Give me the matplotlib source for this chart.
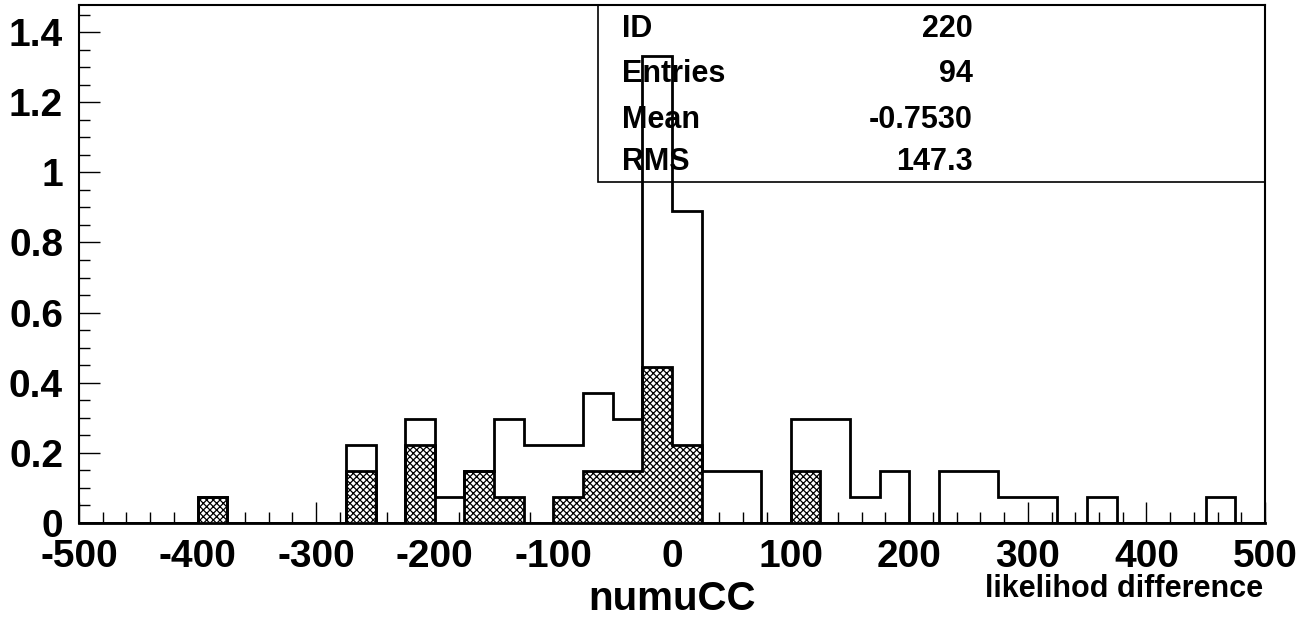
import numpy as np
import matplotlib
matplotlib.use("Agg")
import matplotlib.pyplot as plt
from matplotlib.ticker import MultipleLocator, FuncFormatter
from matplotlib.patches import Rectangle

# ---------------- data ----------------
bin_edges = np.arange(-500, 501, 25)  # 40 bins of width 25
# all-event histogram (open outline)
open_heights = [0, 0, 0, 0, 0.074, 0, 0, 0, 0, 0.222,
                0, 0.296, 0.074, 0.148, 0.296, 0.222, 0.222, 0.370, 0.296, 1.333,
                0.889, 0.148, 0.148, 0, 0.296, 0.296, 0.074, 0.148, 0, 0.148,
                0.148, 0.074, 0.074, 0, 0.074, 0, 0, 0, 0.074, 0]
# selected histogram (cross-hatched)
hatched_heights = [0, 0, 0, 0, 0.074, 0, 0, 0, 0, 0.148,
                   0, 0.222, 0, 0.148, 0.074, 0, 0.074, 0.148, 0.148, 0.444,
                   0.222, 0, 0, 0, 0.148, 0, 0, 0, 0, 0,
                   0, 0, 0, 0, 0, 0, 0, 0, 0, 0]
stats_labels = ["ID", "Entries", "Mean", "RMS"]
stats_values = ["220", "94", "-0.7530", "147.3"]
x_title = "numuCC"
x_subtitle = "likelihod difference"

# ---------------- figure ----------------
plt.rcParams['font.family'] = ['Liberation Sans', 'DejaVu Sans']
plt.rcParams['font.weight'] = 'bold'
plt.rcParams['hatch.linewidth'] = 0.9

W, H = 1313, 619
fig = plt.figure(figsize=(W / 100, H / 100), dpi=100)
L, R, T, B = 79, 1265, 5, 522.7
ax = fig.add_axes([L / W, (H - B) / H, (R - L) / W, (B - T) / H])

ax.stairs(hatched_heights, bin_edges, fill=True, facecolor='white',
          edgecolor='black', hatch='xxxxx', linewidth=2, zorder=2)
ax.stairs(open_heights, bin_edges, fill=False, color='black',
          linewidth=2, zorder=3)

ax.set_xlim(-500, 500)
ax.set_ylim(0, 1.478)

ax.xaxis.set_major_locator(MultipleLocator(100))
ax.xaxis.set_minor_locator(MultipleLocator(20))
ax.yaxis.set_major_locator(MultipleLocator(0.2))
ax.yaxis.set_minor_locator(MultipleLocator(0.05))

def yfmt(v, pos):
    s = f"{v:.1f}"
    if s.endswith(".0"):
        s = s[:-2]
    return s

ax.yaxis.set_major_formatter(FuncFormatter(yfmt))
ax.xaxis.set_major_formatter(FuncFormatter(lambda v, p: f"{int(round(v))}"))

ax.tick_params(which='both', direction='in', top=False, right=False,
               colors='black', labelsize=28, pad=11.5)
ax.tick_params(which='major', length=15, width=1)
ax.tick_params(which='minor', length=8, width=1)
for lab in ax.get_xticklabels() + ax.get_yticklabels():
    lab.set_fontweight('bold')

for s in ax.spines.values():
    s.set_linewidth(1.5)
    s.set_color('black')
ax.spines['bottom'].set_linewidth(2)

# stats box
bx0 = (598 - L) / (R - L)
by0 = (B - 182) / (B - T)
ax.add_patch(Rectangle((bx0, by0), 1 - bx0, 1 - by0, transform=ax.transAxes,
                       fill=False, edgecolor='black', linewidth=1.2, zorder=1,
                       clip_on=False))
label_x = (622 - L) / (R - L)
value_x = (973 - L) / (R - L)
baselines_px = [37, 82, 128, 170]
for lab, val, bpx in zip(stats_labels, stats_values, baselines_px):
    yy = (B - bpx) / (B - T)
    ax.text(label_x, yy, lab, transform=ax.transAxes, ha='left',
            va='baseline', fontsize=22, fontweight='bold', zorder=1)
    ax.text(value_x, yy, val, transform=ax.transAxes, ha='right',
            va='baseline', fontsize=22, fontweight='bold', zorder=1)

fig.text(672 / W, (H - 610) / H, x_title, ha='center', va='baseline',
         fontsize=29, fontweight='bold')
fig.text(1263 / W, (H - 597) / H, x_subtitle, ha='right', va='baseline',
         fontsize=22, fontweight='bold')

fig.savefig("out.png", dpi=100)
